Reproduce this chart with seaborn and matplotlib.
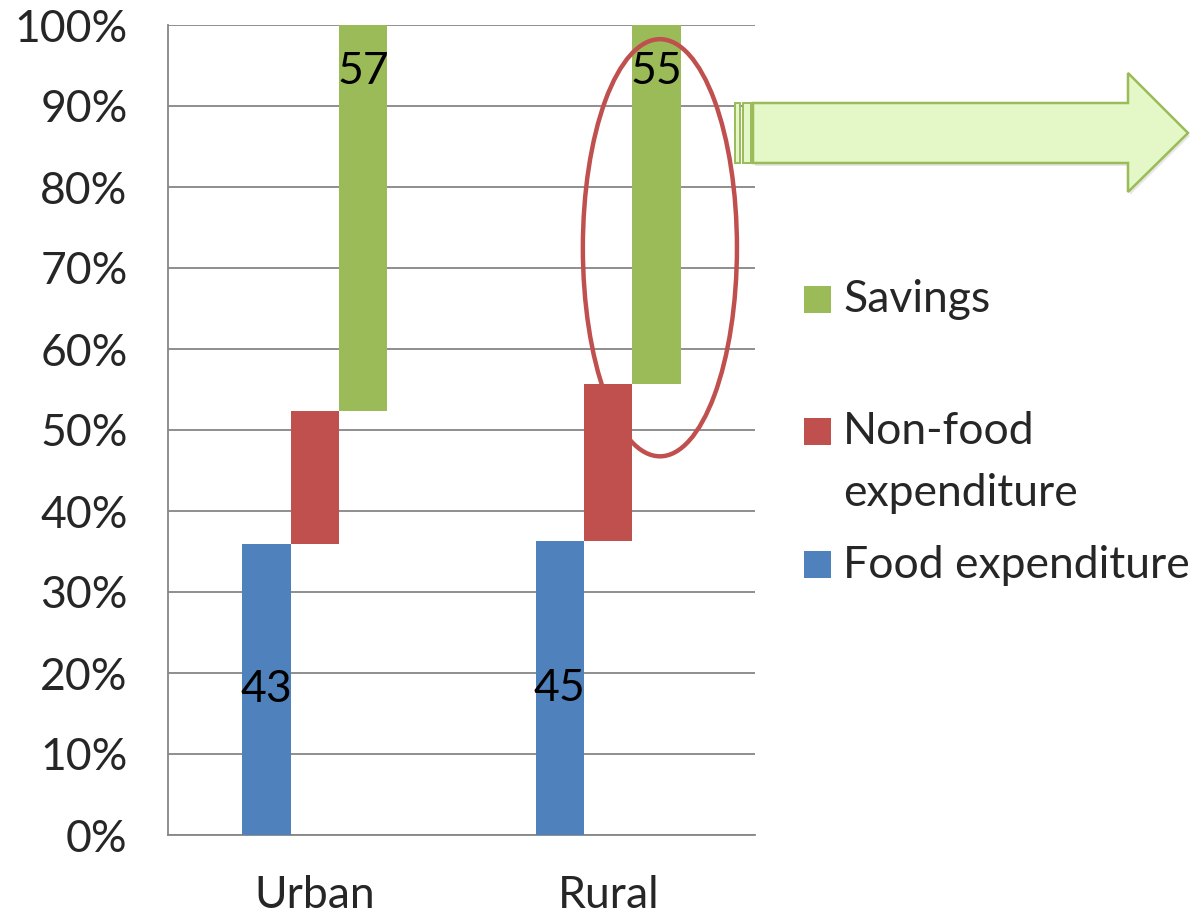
import numpy as np
import pandas as pd
import matplotlib
matplotlib.use("Agg")
import matplotlib.pyplot as plt
import seaborn as sns
from matplotlib.patches import Ellipse, Polygon, Rectangle

# ---- data ----
categories = ["Urban", "Rural"]
series = ["Food expenditure", "Non-food expenditure", "Savings"]
food = [43, 45]
nonfood = [19.5, 24]
savings = [57, 55]
colors = ["#4F81BD", "#C0504D", "#9BBB59"]
legend_labels = ["Savings", "Non-food\nexpenditure", "Food expenditure"]

sns.set_theme(style="white")
plt.rcParams["font.family"] = ["Lato", "DejaVu Sans"]
FS = 32

vals = np.array([food, nonfood, savings], dtype=float)  # series x category
totals = vals.sum(axis=0)
pct = vals / totals * 100
bottoms = np.vstack([np.zeros(len(categories)), np.cumsum(pct, axis=0)[:-1]])

rows = []
for si, s in enumerate(series):
    for ci, c in enumerate(categories):
        rows.append({"cat": c, "series": s, "pct": pct[si, ci]})
df = pd.DataFrame(rows)

fig = plt.figure(figsize=(11.95, 9.16), dpi=100)
ax = fig.add_axes([168 / 1195, 81 / 916, (755 - 168) / 1195, (835 - 25) / 916])

sns.barplot(data=df, x="cat", y="pct", hue="series", hue_order=series,
            order=categories, palette=colors, width=0.495, dodge=True, gap=0,
            legend=False, ax=ax, saturation=1, linewidth=0, zorder=3)

# float each series on top of the previous ones (100% stacked, offset columns)
for si, cont in enumerate(ax.containers):
    for ci, bar in enumerate(cont):
        bar.set_y(bottoms[si, ci])

# data labels (food at segment centre, savings near top)
for ci, bar in enumerate(ax.containers[0]):
    xc = bar.get_x() + bar.get_width() / 2
    ax.text(xc, bottoms[0, ci] + pct[0, ci] / 2, f"{food[ci]:g}", ha="center",
            va="center", fontsize=FS, color="black", zorder=5)
for ci, bar in enumerate(ax.containers[2]):
    xc = bar.get_x() + bar.get_width() / 2
    ax.text(xc, 94.3, f"{savings[ci]:g}", ha="center", va="center",
            fontsize=FS, color="black", zorder=5)

ax.set_xlim(-0.5, 1.5)
ax.set_ylim(0, 100)
ax.set_yticks(np.arange(0, 101, 10))
ax.set_yticklabels([f"{t}%" for t in range(0, 101, 10)])
ax.set_xlabel("")
ax.set_ylabel("")
ax.tick_params(axis="y", labelsize=FS, pad=29, length=0)
ax.tick_params(axis="x", labelsize=FS, pad=29, length=0)
ax.yaxis.grid(True, color="#868686", linewidth=1.3, zorder=0)
ax.set_axisbelow(True)
for side in ["top", "right"]:
    ax.spines[side].set_visible(False)
for side in ["left", "bottom"]:
    ax.spines[side].set_color("#868686")
    ax.spines[side].set_linewidth(1.3)

# red ellipse highlight around Rural savings
ell = Ellipse((1.176, 72.5), width=0.525, height=51.5, fill=False,
              edgecolor="#C0504D", linewidth=3.2, zorder=6, clip_on=False)
ax.add_patch(ell)

# green block arrow (figure pixel coords)
H = 916
def fp(x, y):
    return (x / 1195, (H - y) / H)

arrow_pts = [fp(753, 103), fp(1128, 103), fp(1128, 73), fp(1188, 133),
             fp(1128, 192), fp(1128, 163), fp(753, 163)]
# soft shadow
shadow_pts = [(px + 2 / 1195, py - 3 / H) for px, py in arrow_pts]
fig.patches.append(Polygon(shadow_pts, closed=True, facecolor="#D8D8D8",
                           edgecolor="none", transform=fig.transFigure,
                           zorder=6, alpha=0.6))
fig.patches.append(Polygon(arrow_pts, closed=True, facecolor="#E3F8C6",
                           edgecolor="#9BBB59", linewidth=1.8,
                           transform=fig.transFigure, zorder=7))
for x0, x1 in [(735, 740), (743, 751)]:
    fig.patches.append(Rectangle(fp(x0, 163), (x1 - x0) / 1195, 60 / H,
                                 facecolor="#E3F8C6", edgecolor="#9BBB59",
                                 linewidth=1.4, transform=fig.transFigure,
                                 zorder=7))

# legend (manual, Excel-like layout)
leg_y = [300, 432, 565]
leg_colors = [colors[2], colors[1], colors[0]]
for y, col, lab in zip(leg_y, leg_colors, legend_labels):
    fig.patches.append(Rectangle(fp(804, y + 13), 27 / 1195, 27 / H,
                                 facecolor=col, edgecolor="none",
                                 transform=fig.transFigure))
    fig.text(843 / 1195, (H - y) / H, lab.split("\n")[0], fontsize=FS,
             va="center", ha="left")
    if "\n" in lab:
        fig.text(843 / 1195, (H - y - 61) / H, lab.split("\n")[1],
                 fontsize=FS, va="center", ha="left")

fig.savefig("out.png", dpi=100, facecolor="white")
